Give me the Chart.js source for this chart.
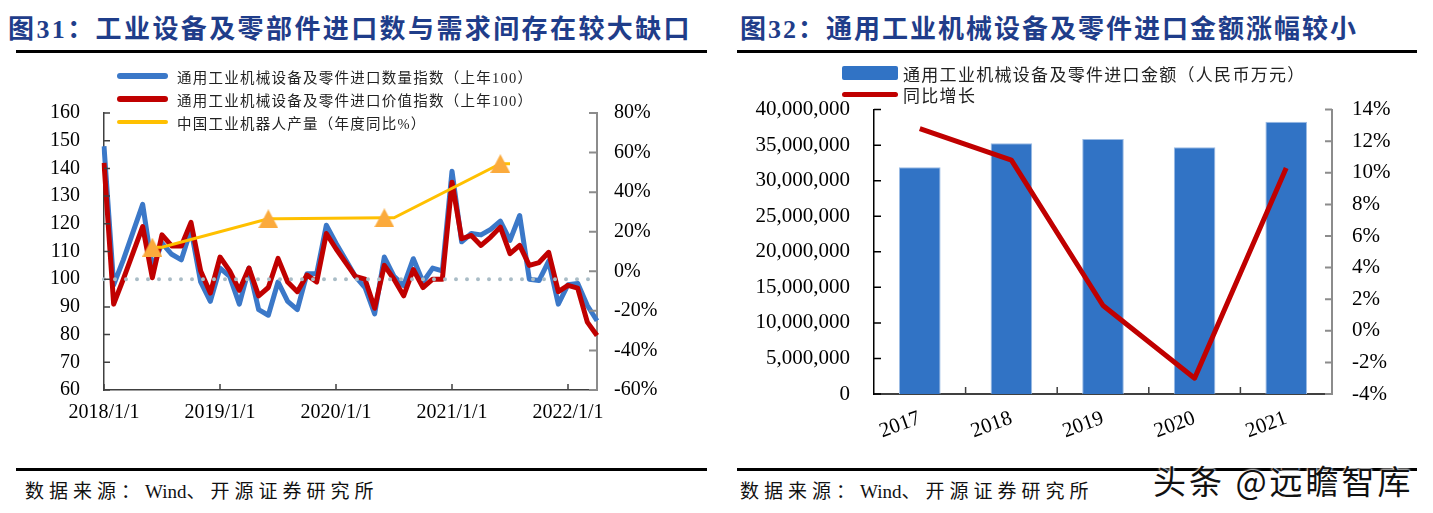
<!DOCTYPE html>
<html>
<head>
<meta charset="utf-8">
<script src="https://cdn.jsdelivr.net/npm/chart.js@4.4.1/dist/chart.umd.min.js"></script>
<style>
  body { margin: 0; background: #fff; }
  #page { position: relative; width: 1433px; height: 513px; overflow: hidden; background: #fff;
          font-family: "Liberation Serif", "Noto Sans CJK SC", serif; }
  .title { position: absolute; top: 15px; line-height: 30px; font-size: 26px; font-weight: bold;
           color: #1f3d8a; letter-spacing: 2.4px; white-space: nowrap; }
  .rule { position: absolute; height: 3px; background: #000; }
  .src { position: absolute; top: 479px; line-height: 26px; font-size: 19px; letter-spacing: 5px;
         color: #111; white-space: nowrap; }
  .src b { font-weight: normal; letter-spacing: 0; }
  .lg { position: absolute; white-space: nowrap; color: #222; display: flex; align-items: center; }
  .lg i { display: inline-block; }
  .mark { position: absolute; left: 1153px; top: 460px; font-family: "Noto Sans CJK SC", sans-serif;
          font-size: 33px; line-height: 40px; letter-spacing: 3px; color: #111; white-space: nowrap;
          text-shadow: 0 0 2px #fff, 0 0 2px #fff, 0 0 3px #fff; }
  canvas { position: absolute; }
</style>
</head>
<body>
<div id="page">
  <canvas id="c1" width="720" height="363" style="left:0;top:77px"></canvas>
  <canvas id="c2" width="713" height="377" style="left:720px;top:73px"></canvas>

  <div class="title" style="left:8px">图31：工业设备及零部件进口数与需求间存在较大缺口</div>
  <div class="rule" style="left:16px;top:50px;width:691px"></div>
  <div class="title" style="left:740px;letter-spacing:2px">图32：通用工业机械设备及零件进口金额涨幅较小</div>
  <div class="rule" style="left:737px;top:50px;width:680px"></div>

  <div class="lg" style="left:117px;top:67px;height:18px;font-size:14.5px;letter-spacing:1.25px">
    <i style="width:51px;height:6px;border-radius:3px;background:#3b78c8;margin-right:9px"></i>通用工业机械设备及零件进口数量指数（上年100）</div>
  <div class="lg" style="left:117px;top:90px;height:18px;font-size:14.5px;letter-spacing:1.25px">
    <i style="width:51px;height:6px;border-radius:3px;background:#c00000;margin-right:9px"></i>通用工业机械设备及零件进口价值指数（上年100）</div>
  <div class="lg" style="left:117px;top:113px;height:18px;font-size:14.5px;letter-spacing:1.25px">
    <i style="width:51px;height:4px;border-radius:2px;background:#ffc000;margin-right:9px"></i>中国工业机器人产量（年度同比%）</div>

  <div class="lg" style="left:842px;top:63px;height:20px;font-size:17px;letter-spacing:1.3px">
    <i style="width:56px;height:14px;border-radius:2px;background:#3173c5;margin-right:5px"></i>通用工业机械设备及零件进口金额（人民币万元）</div>
  <div class="lg" style="left:842px;top:84px;height:20px;font-size:17px;letter-spacing:1.3px">
    <i style="width:56px;height:5px;border-radius:3px;background:#c00000;margin-right:5px"></i>同比增长</div>

  <div class="rule" style="left:16px;top:468px;width:691px"></div>
  <div class="rule" style="left:737px;top:468px;width:680px"></div>
  <div class="src" style="left:25px">数据来源：<b>Wind</b>、开源证券研究所</div>
  <div class="src" style="left:740px">数据来源：<b>Wind</b>、开源证券研究所</div>
  <div class="mark">头条 @远瞻智库</div>
</div>

<script>
// ---- 图31 data (monthly, 2018/1 – 2022/4) ----
const months = [
  '2018/1/1','2018/2/1','2018/3/1','2018/4/1','2018/5/1','2018/6/1','2018/7/1','2018/8/1','2018/9/1','2018/10/1','2018/11/1','2018/12/1',
  '2019/1/1','2019/2/1','2019/3/1','2019/4/1','2019/5/1','2019/6/1','2019/7/1','2019/8/1','2019/9/1','2019/10/1','2019/11/1','2019/12/1',
  '2020/1/1','2020/2/1','2020/3/1','2020/4/1','2020/5/1','2020/6/1','2020/7/1','2020/8/1','2020/9/1','2020/10/1','2020/11/1','2020/12/1',
  '2021/1/1','2021/2/1','2021/3/1','2021/4/1','2021/5/1','2021/6/1','2021/7/1','2021/8/1','2021/9/1','2021/10/1','2021/11/1','2021/12/1',
  '2022/1/1','2022/2/1','2022/3/1','2022/4/1'
];
// 进口数量指数（上年100）
const qtyIndex = [
  148, 98, 107, 117, 127, 104, 113, 109, 107, 118, 99, 92,
  104, 101, 91, 104, 89, 87, 99, 92, 89, 102, 102, 119.5,
  113, 107, 101, 97, 87.5, 108, 101, 97.7, 107.4, 99, 104, 103,
  139, 113.5, 116.5, 116, 118, 121, 114, 123, 100, 99.5, 106.5, 91,
  98, 98.5, 90.5, 85
];
// 进口价值指数（上年100）
const valueIndex = [
  142, 91, 100, 109.5, 119, 100.5, 116, 112, 112, 120.5, 103, 95,
  108, 103, 96, 104, 94, 97, 107.5, 99, 95.5, 101.5, 99, 116.5,
  111, 106, 101, 100, 89.5, 105, 100, 94, 103.5, 97, 100, 100,
  135, 114.6, 115.8, 112.2, 115.2, 118.8, 109.2, 112.2, 105, 106, 109.7, 95.5,
  97.8, 96.8, 84.5, 79.7
];
// 中国工业机器人产量（年度同比%）
const robotDates = ['2018/6/1', '2018/7/1', '2019/6/1', '2019/7/1', '2020/6/1', '2020/7/1', '2021/6/1', '2021/7/1'];
const robotYoy = [12.2, 12.2, 26.5, 26.5, 27, 27, 54.4, 54.4];
const indexBase = 100;

// ---- 图32 data ----
const years = ['2017', '2018', '2019', '2020', '2021'];
const importAmount = [31900000, 35250000, 35850000, 34700000, 38300000]; // 人民币万元
const amountYoy = [12.8, 10.8, 1.6, -3.0, 10.3];

const tickFont = { family: 'Liberation Serif', size: 20, lineHeight: 1.2 };
const tickFont2 = { family: 'Liberation Serif', size: 21, lineHeight: 1.2 };

// ticks drawn inward, like the excel originals
function innerTicks(spec) {
  return {
    id: 'innerTicks',
    afterDraw(chart) {
      const ctx = chart.ctx;
      ctx.save();
      spec.forEach(s => {
        const scale = chart.scales[s.id];
        let pos = [];
        if (s.mode === 'year') {
          scale.getLabels().forEach((l, i) => { if (l.split('/')[1] === '1') pos.push(scale.getPixelForValue(i)); });
        } else if (s.mode === 'between') {
          for (let i = 0; i < scale.getLabels().length - 1; i++) {
            pos.push((scale.getPixelForValue(i) + scale.getPixelForValue(i + 1)) / 2);
          }
        } else {
          pos = scale.ticks.map(t => scale.getPixelForValue(t.value));
        }
        ctx.strokeStyle = s.color;
        ctx.lineWidth = s.width;
        ctx.beginPath();
        pos.forEach(p => {
          if (s.mode === 'year' || s.mode === 'between') {
            ctx.moveTo(p, scale.top); ctx.lineTo(p, scale.top - s.len);
          } else if (scale.position === 'left') {
            ctx.moveTo(scale.right, p); ctx.lineTo(scale.right + s.len, p);
          } else {
            ctx.moveTo(scale.left, p); ctx.lineTo(scale.left - s.len, p);
          }
        });
        ctx.stroke();
      });
      ctx.restore();
    }
  };
}

const baseLine = {
  id: 'baseLine',
  afterDatasetsDraw(chart) {
    const { ctx, chartArea, scales } = chart;
    const y = scales.y.getPixelForValue(indexBase);
    ctx.save();
    ctx.strokeStyle = '#a9bcc6';
    ctx.lineWidth = 4;
    ctx.lineCap = 'round';
    ctx.setLineDash([0, 11]);
    ctx.beginPath();
    ctx.moveTo(chartArea.left, y);
    ctx.lineTo(chartArea.right, y);
    ctx.stroke();
    ctx.restore();
  }
};

function triangle() {
  const c = document.createElement('canvas');
  c.width = 20; c.height = 19;
  const g = c.getContext('2d');
  g.fillStyle = '#fbaa3c';
  g.beginPath(); g.moveTo(10, 0); g.lineTo(20, 19); g.lineTo(0, 19); g.closePath(); g.fill();
  return c;
}

new Chart(document.getElementById('c1'), {
  type: 'line',
  data: {
    labels: months,
    datasets: [
      {
        label: '中国工业机器人产量（年度同比%）',
        data: robotDates.map((d, i) => ({ x: d, y: robotYoy[i] })),
        yAxisID: 'y1', borderColor: '#ffc000', borderWidth: 3,
        pointStyle: triangle(), pointRadius: c => (c.dataIndex % 2 === 0 ? 10 : 0),
        order: 0
      },
      {
        label: '通用工业机械设备及零件进口价值指数（上年100）',
        data: valueIndex, yAxisID: 'y', borderColor: '#c00000', borderWidth: 5,
        pointRadius: 0, borderJoinStyle: 'round', order: 1
      },
      {
        label: '通用工业机械设备及零件进口数量指数（上年100）',
        data: qtyIndex, yAxisID: 'y', borderColor: '#3b78c8', borderWidth: 5,
        pointRadius: 0, borderJoinStyle: 'round', order: 2
      }
    ]
  },
  options: {
    responsive: false, animation: false, events: [], devicePixelRatio: 1,
    layout: { padding: 0 },
    plugins: { legend: { display: false }, tooltip: { enabled: false } },
    scales: {
      x: {
        grid: { display: false, drawTicks: false },
        border: { color: '#404040', width: 1.5 },
        ticks: {
          autoSkip: false, maxRotation: 0, minRotation: 0, padding: 11, color: '#000', font: tickFont,
          callback: function (v) { const l = this.getLabelForValue(v); return l.split('/')[1] === '1' ? l : ''; }
        },
        afterFit: s => { s.height = 50; }
      },
      y: {
        position: 'left', min: 60, max: 160,
        grid: { display: false, drawTicks: false },
        border: { color: '#404040', width: 1.5 },
        ticks: { stepSize: 10, autoSkip: false, padding: 24, color: '#000', font: tickFont },
        afterFit: s => { s.width = 104; }
      },
      y1: {
        position: 'right', min: -60, max: 80,
        grid: { display: false, drawTicks: false },
        border: { color: '#8c8c8c', width: 2 },
        ticks: { stepSize: 20, autoSkip: false, padding: 17, color: '#000', font: tickFont, callback: v => v + '%' },
        afterFit: s => { s.width = 123; }
      }
    }
  },
  plugins: [baseLine, innerTicks([
    { id: 'x', mode: 'year', len: 6, color: '#404040', width: 1.5 },
    { id: 'y', mode: 'value', len: 6, color: '#404040', width: 1.5 },
    { id: 'y1', mode: 'value', len: 8, color: '#8c8c8c', width: 2 }
  ])]
});

new Chart(document.getElementById('c2'), {
  type: 'bar',
  data: {
    labels: years,
    datasets: [
      {
        type: 'line', label: '同比增长', data: amountYoy, yAxisID: 'y1',
        borderColor: '#c00000', borderWidth: 5, pointRadius: 0, borderJoinStyle: 'round', order: 0
      },
      {
        type: 'bar', label: '通用工业机械设备及零件进口金额（人民币万元）', data: importAmount, yAxisID: 'y',
        backgroundColor: '#3173c5', borderColor: '#9bbbe4', borderWidth: 1,
        barPercentage: 0.454, categoryPercentage: 1, order: 1
      }
    ]
  },
  options: {
    responsive: false, animation: false, events: [], devicePixelRatio: 1,
    layout: { padding: 0 },
    plugins: { legend: { display: false }, tooltip: { enabled: false } },
    scales: {
      x: {
        grid: { display: false, drawTicks: false },
        border: { color: '#404040', width: 2 },
        ticks: { maxRotation: 20, minRotation: 20, padding: 12, color: '#000', font: tickFont2 },
        afterFit: s => { s.height = 56; }
      },
      y: {
        position: 'left', min: 0, max: 40000000,
        grid: { display: false, drawTicks: false },
        border: { color: '#000', width: 1.5 },
        ticks: { stepSize: 5000000, autoSkip: false, padding: 24, color: '#000', font: tickFont2,
                 callback: v => v.toLocaleString('en-US') },
        afterFit: s => { s.width = 154; }
      },
      y1: {
        position: 'right', min: -4, max: 14,
        grid: { display: false, drawTicks: false },
        border: { color: '#8c8c8c', width: 2 },
        ticks: { stepSize: 2, autoSkip: false, padding: 20, color: '#000', font: tickFont2, callback: v => v + '%' },
        afterFit: s => { s.width = 101; }
      }
    }
  },
  plugins: [innerTicks([
    { id: 'x', mode: 'between', len: 7, color: '#404040', width: 1.5 },
    { id: 'y', mode: 'value', len: 7, color: '#000', width: 1.5 },
    { id: 'y1', mode: 'value', len: 7, color: '#8c8c8c', width: 2 }
  ])]
});
</script>
</body>
</html>
